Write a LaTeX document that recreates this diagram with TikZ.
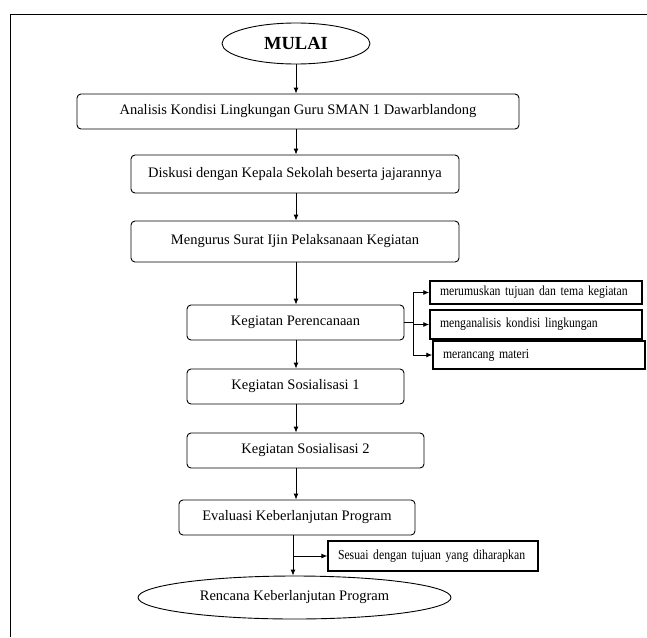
\documentclass[tikz,border=0pt]{standalone}
\usepackage{fontspec}
\setmainfont{Liberation Serif}
\newfontfamily\sempit[FakeStretch=0.85]{Liberation Serif}
\usetikzlibrary{arrows.meta, positioning, shapes.geometric}

\begin{document}
\begin{tikzpicture}[x=1pt, y=-1pt,
    langkah/.style={draw, rounded corners=4pt, line width=0.9pt, align=center, font=\fontsize{14.5}{16}\selectfont},
    mulaiakhir/.style={draw, ellipse, line width=0.9pt, inner sep=0pt, font=\fontsize{14.5}{16}\selectfont},
    rincian/.style={draw, line width=1.5pt, align=left, inner xsep=10pt, font=\sempit\fontsize{13.8}{15}\selectfont},
    panah/.style={-{Latex[length=6pt,width=5pt]}, line width=0.9pt}]
    \useasboundingbox (0,0) rectangle (647,637);

    % Frame
    \draw[line width=0.9pt] (647,14) -- (10,14) -- (10,637);

    % Main flow
    \node[mulaiakhir, minimum width=148, minimum height=41, font=\fontsize{18.5}{20}\selectfont\bfseries] (mulai) at (296,43.5) {MULAI};
    \node[langkah, minimum width=442, minimum height=35] (analisis) at (298,111.5) {Analisis Kondisi Lingkungan Guru SMAN 1 Dawarblandong};
    \node[langkah, minimum width=328, minimum height=38] (diskusi) at (295,174) {Diskusi dengan Kepala Sekolah beserta jajarannya};
    \node[langkah, minimum width=328, minimum height=41] (ijin) at (295,241.5) {Mengurus Surat Ijin Pelaksanaan Kegiatan};
    \node[langkah, minimum width=217, minimum height=35] (rencana) at (295.5,322.5) {Kegiatan Perencanaan};
    \node[langkah, minimum width=217, minimum height=35] (sos1) at (295.5,386.5) {Kegiatan Sosialisasi 1};
    \node[langkah, minimum width=237, minimum height=35] (sos2) at (305.5,450.5) {Kegiatan Sosialisasi 2};
    \node[langkah, minimum width=236, minimum height=35] (evaluasi) at (297,517.5) {Evaluasi Keberlanjutan Program};
    \node[mulaiakhir, minimum width=313, minimum height=43] (akhir) at (294.5,597.5) {Rencana Keberlanjutan Program};

    % Side boxes
    \node[rincian, text width=192, minimum height=23, inner ysep=1pt] (tujuan) at (536,292.5) {merumuskan tujuan dan tema kegiatan};
    \node[rincian, text width=192, minimum height=29] (kondisi) at (536,324.5) {menganalisis kondisi lingkungan};
    \node[rincian, text width=192, minimum height=28] (materi) at (539,355) {merancang materi};
    \node[rincian, line width=1.2pt, text width=190, minimum height=30] (sesuai) at (433,556) {Sesuai dengan tujuan yang diharapkan};

    % Arrows
    \coordinate (poros) at (296,0);
    \draw[panah] (poros |- mulai.south) -- (poros |- analisis.north);
    \draw[panah] (poros |- analisis.south) -- (poros |- diskusi.north);
    \draw[panah] (poros |- diskusi.south) -- (poros |- ijin.north);
    \draw[panah] (poros |- ijin.south) -- (poros |- rencana.north);
    \draw[panah] (poros |- rencana.south) -- (poros |- sos1.north);
    \draw[panah] (poros |- sos1.south) -- (poros |- sos2.north);
    \draw[panah] (poros |- sos2.south) -- (poros |- evaluasi.north);
    \coordinate (tengah) at (293,0);
    \draw[panah] (tengah |- evaluasi.south) -- (tengah |- akhir.north);
    \draw[panah] (tengah |- sesuai.west) -- (sesuai.west);

    % Branch
    \coordinate (cabang) at (413,0);
    \draw[line width=0.9pt] (rencana.east) -- (cabang |- rencana.east);
    \draw[line width=0.9pt] (cabang |- tujuan.west) -- (cabang |- materi.west);
    \draw[panah] (cabang |- tujuan.west) -- (tujuan.west);
    \draw[panah] (cabang |- kondisi.west) -- (kondisi.west);
    \draw[panah] (cabang |- materi.west) -- (materi.west);
\end{tikzpicture}
\end{document}
